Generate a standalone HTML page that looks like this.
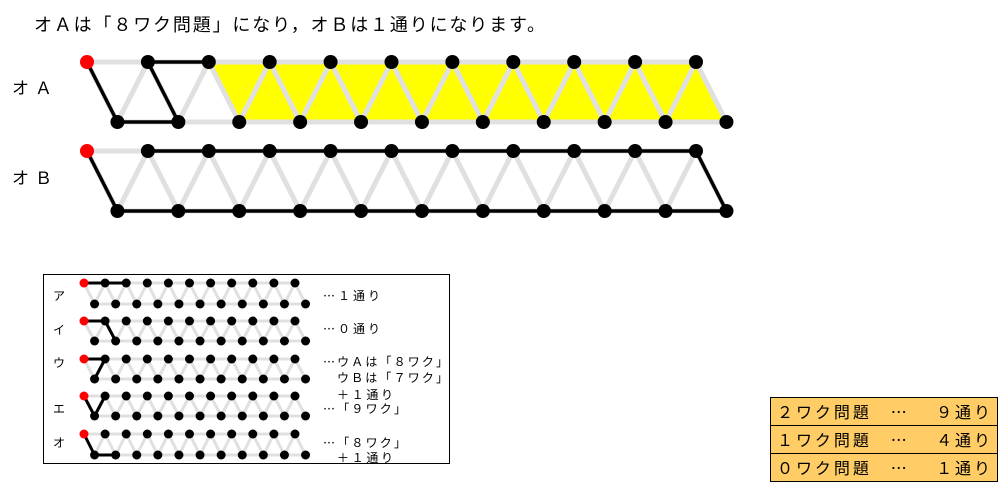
<!DOCTYPE html>
<html><head><meta charset="utf-8"><style>
body{margin:0;background:#fff;width:1006px;height:494px;overflow:hidden;font-family:"Liberation Sans","Noto Sans CJK JP",sans-serif}
svg{position:absolute;left:0;top:0}
text{font-family:"Liberation Sans","Noto Sans CJK JP",sans-serif;fill:#000}
</style></head><body>
<svg id="s" width="1006" height="494" xmlns="http://www.w3.org/2000/svg">
<text x="34" y="31" font-size="18" textLength="511" lengthAdjust="spacing">オＡは「８ワク問題」になり，オＢは１通りになります。</text>
<text x="12" y="94" font-size="17" textLength="40" lengthAdjust="spacing">オＡ</text>
<text x="12" y="184" font-size="17" textLength="40" lengthAdjust="spacing">オＢ</text>
<rect x="43.5" y="274.5" width="406" height="189" fill="none" stroke="#000" stroke-width="1"/>
<g font-size="12">
<text x="53" y="300">ア</text><text x="53" y="334">イ</text><text x="53" y="367">ウ</text><text x="53" y="413">エ</text><text x="53" y="447">オ</text>
<text x="323" y="300" textLength="57" lengthAdjust="spacing">⋯１通り</text>
<text x="323" y="333" textLength="57" lengthAdjust="spacing">⋯０通り</text>
<text x="323" y="366" textLength="125" lengthAdjust="spacing">⋯ウＡは「８ワク」</text>
<text x="337" y="382" textLength="111" lengthAdjust="spacing">ウＢは「７ワク」</text>
<text x="337" y="399" textLength="56" lengthAdjust="spacing">＋１通り</text>
<text x="323" y="413" textLength="83" lengthAdjust="spacing">⋯「９ワク」</text>
<text x="323" y="447" textLength="83" lengthAdjust="spacing">⋯「８ワク」</text>
<text x="337" y="462" textLength="56" lengthAdjust="spacing">＋１通り</text>
</g>
<g stroke="#000" stroke-width="1" font-size="16">
<rect x="770.5" y="397.5" width="227" height="28" fill="#FFCC66"/>
<rect x="770.5" y="425.5" width="227" height="28" fill="#FFCC66"/>
<rect x="770.5" y="453.5" width="227" height="28" fill="#FFCC66"/>
</g>
<g font-size="16">
<text x="777" y="418" textLength="213" lengthAdjust="spacing">２ワク問題　⋯　 ９通り</text>
<text x="777" y="446" textLength="213" lengthAdjust="spacing">１ワク問題　⋯　 ４通り</text>
<text x="777" y="474" textLength="213" lengthAdjust="spacing">０ワク問題　⋯　 １通り</text>
</g>
</svg>
<script>
var s=document.getElementById('s'),NS='http://www.w3.org/2000/svg';
function el(t,a){var e=document.createElementNS(NS,t);for(var k in a)e.setAttribute(k,a[k]);s.appendChild(e);return e;}
function ln(a,b,c,d,col,w){el('line',{x1:a,y1:b,x2:c,y2:d,stroke:col,'stroke-width':w,'stroke-linecap':'round'});}
function lattice(x0,dx,ty,by,r,gw,bw,bold,yellow){
 var T=[],B=[];for(var i=0;i<11;i++){T.push(x0+i*dx);B.push(x0+dx/2+i*dx);}
 if(yellow)el('polygon',{points:T[2]+','+ty+' '+T[10]+','+ty+' '+B[10]+','+by+' '+B[2]+','+by,fill:'#ffff00'});
 ln(T[0],ty,T[10],ty,'#e0e0e0',gw);ln(B[0],by,B[10],by,'#e0e0e0',gw);
 for(var i=0;i<11;i++){ln(T[i],ty,B[i],by,'#e0e0e0',gw);if(i>0)ln(T[i],ty,B[i-1],by,'#e0e0e0',gw);}
 bold.forEach(function(p){var a=p[0],b=p[1];ln(a[0]=='T'?T[a[1]]:B[a[1]],a[0]=='T'?ty:by,b[0]=='T'?T[b[1]]:B[b[1]],b[0]=='T'?ty:by,'#000',bw);});
 for(var i=0;i<11;i++){el('circle',{cx:T[i],cy:ty,r:r,fill:i==0?'#ff0000':'#000'});el('circle',{cx:B[i],cy:by,r:r,fill:'#000'});}
}
lattice(87,60.9,62,122,7,5,3.5,[[['T',0],['B',0]],[['B',0],['B',1]],[['B',1],['T',1]],[['T',1],['T',2]]],true);
var bb=[[['T',0],['B',0]],[['B',0],['B',10]],[['B',10],['T',10]],[['T',10],['T',1]]];
lattice(87,60.9,151,211,7,5,3.5,bb,false);
var ys=[[283,304],[321,341],[359,379],[396,416],[434,455]];
var bolds=[
 [[['T',0],['T',2]]],
 [[['T',0],['T',1]],[['T',1],['B',1]]],
 [[['T',0],['T',1]],[['T',1],['B',0]]],
 [[['T',0],['B',0]],[['B',0],['T',1]]],
 [[['T',0],['B',0]],[['B',0],['B',1]]]];
for(var k=0;k<5;k++)lattice(84,21.1,ys[k][0],ys[k][1],4.5,3,3,bolds[k],false);
</script>
</body></html>
